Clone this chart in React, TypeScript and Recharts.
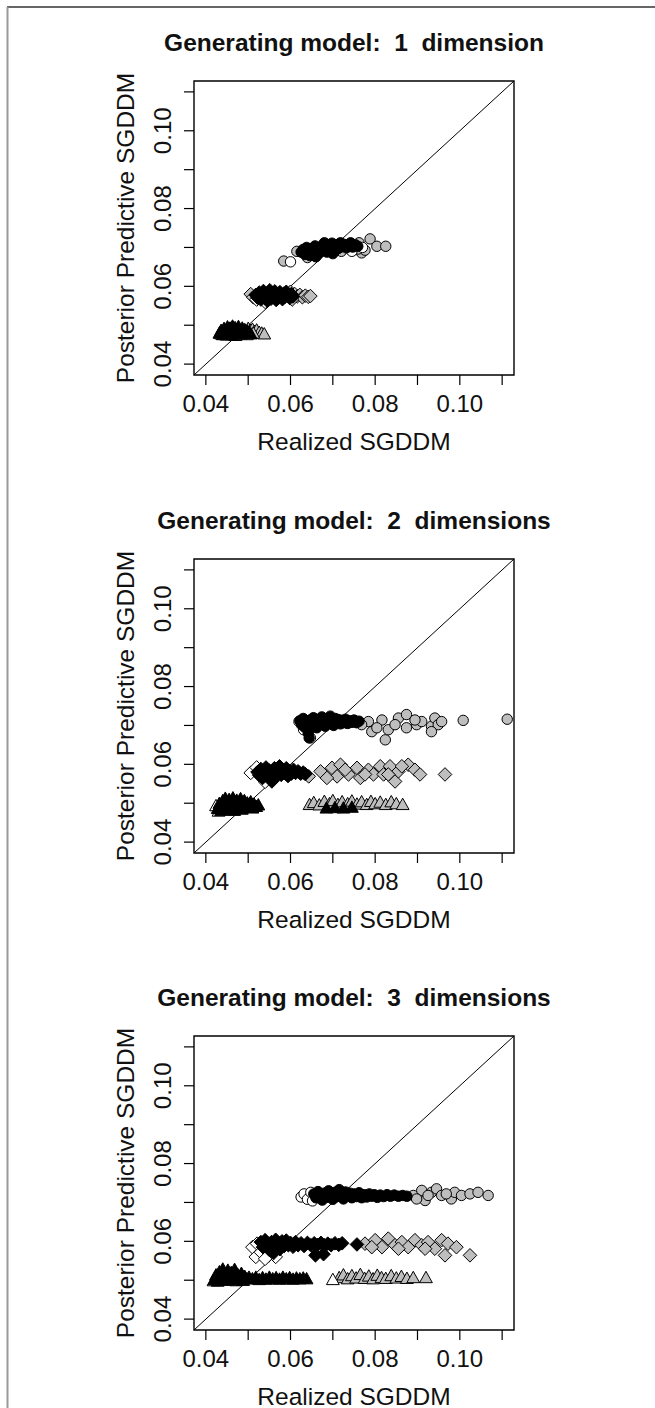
import React from "react";
import {
  ScatterChart,
  Scatter,
  XAxis,
  YAxis,
  ReferenceLine,
  ReferenceArea,
} from "recharts";

type Pt = [number, number];

// axis setup (same for x and y, all three panels)
const AXIS_DOMAIN: [number, number] = [0.0372, 0.1128];
const AXIS_TICKS = [0.04, 0.05, 0.06, 0.07, 0.08, 0.09, 0.1, 0.11];
const LABELLED_TICKS = [0.04, 0.06, 0.08, 0.1];

const TITLES = [
  "Generating model:  1  dimension",
  "Generating model:  2  dimensions",
  "Generating model:  3  dimensions",
];
const X_LABEL = "Realized SGDDM";
const Y_LABEL = "Posterior Predictive SGDDM";

// ---- panel 1 ----
const P1_TRI_BLACK: Pt[] = [
  [0.0432, 0.0478], [0.0436, 0.0485], [0.044, 0.0474], [0.0443, 0.049], [0.0446, 0.048],
  [0.0449, 0.0473], [0.0451, 0.0494], [0.0453, 0.0486], [0.0455, 0.0477], [0.0457, 0.0491],
  [0.0459, 0.0482], [0.0461, 0.0474], [0.0463, 0.0496], [0.0465, 0.0487], [0.0467, 0.0479],
  [0.0469, 0.0492], [0.0471, 0.0483], [0.0473, 0.0475], [0.0475, 0.0489], [0.0477, 0.0495],
  [0.0479, 0.048], [0.0481, 0.0486], [0.0483, 0.0476], [0.0486, 0.0491], [0.0489, 0.0482],
  [0.0492, 0.0487], [0.0495, 0.0478], [0.0498, 0.0484], [0.0502, 0.048], [0.0506, 0.0476],
];
const P1_TRI_GREY: Pt[] = [
  [0.05, 0.049], [0.0505, 0.0485], [0.051, 0.0488], [0.0515, 0.0482], [0.052, 0.0486],
  [0.0526, 0.048], [0.0532, 0.0478], [0.0538, 0.0476], [0.0512, 0.0478],
];
const P1_TRI_OPEN: Pt[] = [[0.0436, 0.0476], [0.047, 0.0472], [0.0497, 0.0474]];

const P1_DIA_BLACK: Pt[] = [
  [0.0518, 0.0578], [0.0522, 0.0571], [0.0526, 0.0584], [0.053, 0.0566], [0.0533, 0.0577],
  [0.0536, 0.0588], [0.0539, 0.057], [0.0542, 0.0581], [0.0545, 0.0563], [0.0548, 0.0575],
  [0.0551, 0.059], [0.0554, 0.0568], [0.0557, 0.0582], [0.056, 0.0574], [0.0563, 0.0587],
  [0.0566, 0.0565], [0.0569, 0.0579], [0.0572, 0.0571], [0.0575, 0.0585], [0.0578, 0.0576],
  [0.0581, 0.0567], [0.0584, 0.0581], [0.0587, 0.0573], [0.059, 0.0586], [0.0594, 0.0577],
  [0.0598, 0.057], [0.0602, 0.058], [0.0606, 0.0574],
];
const P1_DIA_GREY: Pt[] = [
  [0.0506, 0.058], [0.0512, 0.0572], [0.06, 0.0586], [0.061, 0.058], [0.0616, 0.0574],
  [0.0622, 0.0578], [0.0628, 0.0572], [0.0635, 0.0576], [0.0642, 0.0573], [0.0647, 0.0575],
  [0.0604, 0.0566],
];
const P1_DIA_OPEN: Pt[] = [[0.052, 0.0566], [0.054, 0.056]];

const P1_CIR_BLACK: Pt[] = [
  [0.0625, 0.0688], [0.063, 0.0695], [0.0634, 0.0682], [0.0638, 0.07], [0.0642, 0.069],
  [0.0646, 0.0679], [0.065, 0.0697], [0.0654, 0.0687], [0.0658, 0.0704], [0.0662, 0.0693],
  [0.0666, 0.0684], [0.067, 0.0701], [0.0674, 0.0691], [0.0678, 0.0708], [0.0682, 0.0697],
  [0.0686, 0.0688], [0.069, 0.0705], [0.0694, 0.0695], [0.0698, 0.0711], [0.0702, 0.07],
  [0.0706, 0.0692], [0.071, 0.0707], [0.0714, 0.0698], [0.0718, 0.0712], [0.0722, 0.0702],
  [0.0727, 0.0708], [0.0732, 0.0699], [0.0737, 0.0706], [0.0742, 0.0712], [0.0747, 0.0701],
  [0.0753, 0.0707], [0.0759, 0.0703], [0.068, 0.0712], [0.066, 0.0676], [0.07, 0.0684],
];
const P1_CIR_GREY: Pt[] = [
  [0.0584, 0.0665], [0.0615, 0.069], [0.064, 0.0674], [0.072, 0.069], [0.075, 0.0694],
  [0.0762, 0.0712], [0.0768, 0.0686], [0.0776, 0.0693], [0.0788, 0.0722], [0.0804, 0.0703],
  [0.0825, 0.0703], [0.076, 0.0696],
];
const P1_CIR_OPEN: Pt[] = [[0.06, 0.0663], [0.0745, 0.069], [0.077, 0.07]];

// ---- panel 2 ----
const P2_TRI_BLACK: Pt[] = [
  [0.0428, 0.0485], [0.0432, 0.0498], [0.0436, 0.048], [0.044, 0.0505], [0.0443, 0.049],
  [0.0446, 0.0511], [0.0449, 0.0482], [0.0452, 0.0497], [0.0455, 0.0508], [0.0458, 0.0486],
  [0.0461, 0.0502], [0.0464, 0.0512], [0.0467, 0.048], [0.047, 0.0494], [0.0473, 0.0506],
  [0.0476, 0.0487], [0.0479, 0.05], [0.0482, 0.051], [0.0485, 0.0483], [0.0488, 0.0496],
  [0.0491, 0.0505], [0.0494, 0.0488], [0.0498, 0.0499], [0.0502, 0.0492], [0.0506, 0.0502],
  [0.051, 0.0486], [0.0514, 0.0496], [0.0519, 0.049], [0.0524, 0.0494],
  [0.0685, 0.0486], [0.0705, 0.0487], [0.0725, 0.0486], [0.0745, 0.0488],
];
const P2_TRI_GREY: Pt[] = [
  [0.0645, 0.0495], [0.0655, 0.05], [0.0668, 0.0494], [0.068, 0.0503], [0.0692, 0.0497],
  [0.07, 0.0505], [0.0712, 0.0495], [0.0722, 0.0502], [0.0735, 0.0497], [0.0745, 0.0504],
  [0.0757, 0.0496], [0.0768, 0.0502], [0.078, 0.0495], [0.079, 0.0503], [0.08, 0.0497],
  [0.0812, 0.0501], [0.0825, 0.0495], [0.0838, 0.0502], [0.085, 0.0497], [0.0865, 0.0495],
];
const P2_TRI_OPEN: Pt[] = [[0.0424, 0.0492], [0.043, 0.0478]];

const P2_DIA_BLACK: Pt[] = [
  [0.0522, 0.058], [0.0526, 0.0572], [0.053, 0.0588], [0.0534, 0.0565], [0.0538, 0.0578],
  [0.0542, 0.0592], [0.0546, 0.057], [0.055, 0.0584], [0.0554, 0.0562], [0.0558, 0.0576],
  [0.0562, 0.059], [0.0566, 0.0568], [0.057, 0.0582], [0.0574, 0.0595], [0.0578, 0.0573],
  [0.0582, 0.0586], [0.0586, 0.0577], [0.059, 0.059], [0.0594, 0.057], [0.0598, 0.0583],
  [0.0602, 0.0576], [0.0607, 0.0586], [0.0612, 0.0578], [0.0618, 0.0582], [0.0624, 0.0576],
  [0.063, 0.0579], [0.0635, 0.0575], [0.0556, 0.0556],
];
const P2_DIA_GREY: Pt[] = [
  [0.0643, 0.0569], [0.0671, 0.0582], [0.0698, 0.0591], [0.071, 0.0569], [0.0718, 0.0599],
  [0.0737, 0.0574], [0.0757, 0.0591], [0.0765, 0.0565], [0.0784, 0.0586], [0.0796, 0.0574],
  [0.0812, 0.0595], [0.082, 0.0574], [0.0835, 0.0595], [0.0847, 0.0556], [0.0855, 0.0582],
  [0.0878, 0.0599], [0.0894, 0.0586], [0.0906, 0.0574], [0.0965, 0.0574], [0.0686, 0.0565],
  [0.0729, 0.0586], [0.0776, 0.0574], [0.0831, 0.0574], [0.0863, 0.0595],
];
const P2_DIA_OPEN: Pt[] = [[0.0506, 0.0578], [0.052, 0.0592], [0.054, 0.0555]];

const P2_CIR_BLACK: Pt[] = [
  [0.0622, 0.0712], [0.0626, 0.0702], [0.063, 0.0718], [0.0634, 0.0695], [0.0638, 0.0708],
  [0.0642, 0.068], [0.0646, 0.0714], [0.065, 0.07], [0.0654, 0.072], [0.0658, 0.0706],
  [0.0662, 0.0694], [0.0666, 0.0715], [0.067, 0.0703], [0.0674, 0.0722], [0.0678, 0.0709],
  [0.0682, 0.0698], [0.0686, 0.0716], [0.069, 0.0705], [0.0694, 0.0724], [0.0698, 0.0712],
  [0.0702, 0.07], [0.0706, 0.0718], [0.071, 0.0708], [0.0714, 0.0715], [0.0718, 0.0704],
  [0.0722, 0.0713], [0.0726, 0.0707], [0.073, 0.0716], [0.0735, 0.0705], [0.074, 0.0712],
  [0.0745, 0.0708], [0.075, 0.0714], [0.0756, 0.0707], [0.0762, 0.0711], [0.0644, 0.0668],
];
const P2_CIR_GREY: Pt[] = [
  [0.0784, 0.071], [0.0816, 0.0714], [0.0792, 0.0684], [0.0824, 0.0663], [0.0831, 0.0689],
  [0.0855, 0.0719], [0.0874, 0.0728], [0.0874, 0.0694], [0.0898, 0.0702], [0.091, 0.071],
  [0.0933, 0.0698], [0.0941, 0.0719], [0.0949, 0.0702], [0.0957, 0.071], [0.0933, 0.0684],
  [0.1008, 0.0713], [0.1112, 0.0716], [0.0768, 0.0702], [0.0804, 0.0694], [0.0847, 0.0702],
  [0.0894, 0.0714],
];
const P2_CIR_OPEN: Pt[] = [[0.062, 0.071], [0.0631, 0.0689], [0.0647, 0.0668]];

// ---- panel 3 ----
const P3_TRI_BLACK: Pt[] = [
  [0.042, 0.05], [0.0424, 0.0512], [0.0428, 0.0496], [0.0432, 0.052], [0.0436, 0.0505],
  [0.044, 0.0527], [0.0444, 0.0498], [0.0448, 0.0514], [0.0452, 0.0524], [0.0456, 0.0502],
  [0.046, 0.0518], [0.0464, 0.0508], [0.0468, 0.0526], [0.0472, 0.0497], [0.0476, 0.0512],
  [0.048, 0.0503], [0.0484, 0.0516], [0.0488, 0.0498], [0.0492, 0.0508], [0.0497, 0.0502],
  [0.0502, 0.0506], [0.051, 0.0502], [0.0518, 0.0506], [0.0526, 0.05], [0.0534, 0.0505],
  [0.0542, 0.0501], [0.055, 0.0506], [0.0558, 0.0502], [0.0566, 0.0505], [0.0574, 0.0501],
  [0.0582, 0.0506], [0.059, 0.0502], [0.0598, 0.0505], [0.0606, 0.0501], [0.0614, 0.0504],
  [0.0622, 0.0502], [0.063, 0.0504], [0.0638, 0.0502],
];
const P3_TRI_GREY: Pt[] = [
  [0.0715, 0.0505], [0.0725, 0.0512], [0.0735, 0.0502], [0.0745, 0.051], [0.0755, 0.0504],
  [0.0765, 0.0513], [0.0775, 0.0503], [0.0785, 0.0509], [0.0795, 0.0502], [0.0805, 0.0511],
  [0.0815, 0.0505], [0.0825, 0.0503], [0.0838, 0.051], [0.085, 0.0504], [0.0862, 0.0508],
  [0.0875, 0.0503], [0.089, 0.0505], [0.092, 0.0505],
];
const P3_TRI_OPEN: Pt[] = [[0.0418, 0.0497], [0.07, 0.05]];

const P3_DIA_BLACK: Pt[] = [
  [0.053, 0.0598], [0.0535, 0.0585], [0.054, 0.0603], [0.0545, 0.059], [0.055, 0.0578],
  [0.0555, 0.0598], [0.056, 0.0586], [0.0565, 0.0604], [0.057, 0.0592], [0.0575, 0.058],
  [0.058, 0.06], [0.0585, 0.0588], [0.059, 0.0602], [0.0595, 0.059], [0.06, 0.0596],
  [0.0606, 0.0586], [0.0612, 0.0598], [0.0618, 0.059], [0.0625, 0.0595], [0.0632, 0.0588],
  [0.064, 0.0596], [0.0648, 0.059], [0.0656, 0.0595], [0.0664, 0.0591], [0.0672, 0.0596],
  [0.068, 0.059], [0.0688, 0.0594], [0.0696, 0.059], [0.0705, 0.0595], [0.0714, 0.0591],
  [0.0722, 0.0595], [0.0659, 0.0564], [0.0678, 0.0567], [0.0757, 0.0592], [0.056, 0.057],
];
const P3_DIA_GREY: Pt[] = [
  [0.0776, 0.0594], [0.08, 0.0603], [0.0816, 0.0585], [0.0831, 0.0607], [0.0847, 0.059],
  [0.0863, 0.0598], [0.0878, 0.0585], [0.0894, 0.0603], [0.091, 0.059], [0.0925, 0.0598],
  [0.0941, 0.0581], [0.0957, 0.0603], [0.0965, 0.0564], [0.0972, 0.0594], [0.0992, 0.0585],
  [0.1024, 0.0564], [0.0792, 0.0585], [0.0855, 0.0581], [0.0918, 0.0581],
];
const P3_DIA_OPEN: Pt[] = [
  [0.051, 0.0585], [0.0518, 0.056], [0.0521, 0.0594], [0.053, 0.0572], [0.0549, 0.0564],
  [0.0565, 0.056], [0.054, 0.0555],
];

const P3_CIR_BLACK: Pt[] = [
  [0.0655, 0.0722], [0.066, 0.0712], [0.0665, 0.0728], [0.067, 0.0716], [0.0675, 0.0706],
  [0.068, 0.0724], [0.0685, 0.0713], [0.069, 0.073], [0.0695, 0.0718], [0.07, 0.0708],
  [0.0705, 0.0726], [0.071, 0.0715], [0.0715, 0.0733], [0.072, 0.072], [0.0725, 0.0709],
  [0.073, 0.0727], [0.0735, 0.0716], [0.074, 0.0724], [0.0745, 0.0712], [0.075, 0.0722],
  [0.0756, 0.0715], [0.0762, 0.0725], [0.0768, 0.0712], [0.0774, 0.072], [0.078, 0.0714],
  [0.0786, 0.0722], [0.0792, 0.0716], [0.0798, 0.072], [0.0805, 0.0713], [0.0812, 0.0719],
  [0.082, 0.0715], [0.0828, 0.072], [0.0836, 0.0716], [0.0845, 0.0719], [0.0855, 0.0716],
  [0.0865, 0.0718], [0.0875, 0.0716],
];
const P3_CIR_GREY: Pt[] = [
  [0.089, 0.0718], [0.091, 0.0731], [0.0918, 0.0705], [0.0933, 0.0726], [0.0945, 0.0735],
  [0.0957, 0.0718], [0.098, 0.0709], [0.0988, 0.0726], [0.1004, 0.0718], [0.1024, 0.0722],
  [0.1043, 0.0726], [0.1067, 0.0718], [0.0898, 0.0709], [0.0968, 0.0722], [0.0925, 0.0718],
];
const P3_CIR_OPEN: Pt[] = [
  [0.0625, 0.0714], [0.0632, 0.0722], [0.064, 0.0708], [0.0648, 0.0726], [0.0652, 0.0704],
];

const GREY = "#bebebe";
const WHITE = "#ffffff";
const BLACK = "#000000";

type Kind = "circle" | "diamond" | "triangle";
type SeriesDef = { kind: Kind; fill: string; pts: Pt[] };

// draw order: grey, open, black (black ends up on top)
const PANEL_SERIES: SeriesDef[][] = [
  [
    { kind: "triangle", fill: GREY, pts: P1_TRI_GREY },
    { kind: "triangle", fill: WHITE, pts: P1_TRI_OPEN },
    { kind: "triangle", fill: BLACK, pts: P1_TRI_BLACK },
    { kind: "diamond", fill: GREY, pts: P1_DIA_GREY },
    { kind: "diamond", fill: WHITE, pts: P1_DIA_OPEN },
    { kind: "diamond", fill: BLACK, pts: P1_DIA_BLACK },
    { kind: "circle", fill: GREY, pts: P1_CIR_GREY },
    { kind: "circle", fill: WHITE, pts: P1_CIR_OPEN },
    { kind: "circle", fill: BLACK, pts: P1_CIR_BLACK },
  ],
  [
    { kind: "triangle", fill: GREY, pts: P2_TRI_GREY },
    { kind: "triangle", fill: WHITE, pts: P2_TRI_OPEN },
    { kind: "triangle", fill: BLACK, pts: P2_TRI_BLACK },
    { kind: "diamond", fill: GREY, pts: P2_DIA_GREY },
    { kind: "diamond", fill: WHITE, pts: P2_DIA_OPEN },
    { kind: "diamond", fill: BLACK, pts: P2_DIA_BLACK },
    { kind: "circle", fill: GREY, pts: P2_CIR_GREY },
    { kind: "circle", fill: WHITE, pts: P2_CIR_OPEN },
    { kind: "circle", fill: BLACK, pts: P2_CIR_BLACK },
  ],
  [
    { kind: "triangle", fill: GREY, pts: P3_TRI_GREY },
    { kind: "triangle", fill: WHITE, pts: P3_TRI_OPEN },
    { kind: "triangle", fill: BLACK, pts: P3_TRI_BLACK },
    { kind: "diamond", fill: GREY, pts: P3_DIA_GREY },
    { kind: "diamond", fill: WHITE, pts: P3_DIA_OPEN },
    { kind: "diamond", fill: BLACK, pts: P3_DIA_BLACK },
    { kind: "circle", fill: GREY, pts: P3_CIR_GREY },
    { kind: "circle", fill: WHITE, pts: P3_CIR_OPEN },
    { kind: "circle", fill: BLACK, pts: P3_CIR_BLACK },
  ],
];

const PANEL_TOPS = [0, 478, 955];
const FONT = "'Liberation Sans', Arial, sans-serif";

const toData = (pts: Pt[]) => pts.map(([x, y]) => ({ x, y }));

function Marker({ cx, cy, kind, fill }: { cx: number; cy: number; kind: Kind; fill: string }) {
  if (cx == null || cy == null) return null;
  if (kind === "circle") {
    return <circle cx={cx} cy={cy} r={5.2} fill={fill} stroke="#000" strokeWidth={1} />;
  }
  if (kind === "diamond") {
    const d = 6.8;
    return (
      <path
        d={`M${cx},${cy - d}L${cx + d},${cy}L${cx},${cy + d}L${cx - d},${cy}Z`}
        fill={fill}
        stroke="#000"
        strokeWidth={1}
      />
    );
  }
  return (
    <path
      d={`M${cx},${cy - 7}L${cx + 6.4},${cy + 4.4}L${cx - 6.4},${cy + 4.4}Z`}
      fill={fill}
      stroke="#000"
      strokeWidth={1}
    />
  );
}

const XTick = (props: any) => {
  const { x, y, payload } = props;
  const v = payload.value;
  if (!LABELLED_TICKS.some((t) => Math.abs(t - v) < 1e-9)) return null;
  return (
    <text x={x} y={y + 26.5} textAnchor="middle" fontSize={24} fontFamily={FONT} fill="#111">
      {v.toFixed(2)}
    </text>
  );
};

const YTick = (props: any) => {
  const { x, y, payload } = props;
  const v = payload.value;
  if (!LABELLED_TICKS.some((t) => Math.abs(t - v) < 1e-9)) return null;
  const bx = x - 12.5;
  return (
    <text
      x={bx}
      y={y}
      transform={`rotate(-90, ${bx}, ${y})`}
      textAnchor="middle"
      fontSize={24}
      fontFamily={FONT}
      fill="#111"
    >
      {v.toFixed(2)}
    </text>
  );
};

function Panel({ series }: { series: SeriesDef[] }) {
  return (
    <ScatterChart width={655} height={440} margin={{ top: 81, right: 141, bottom: 5, left: 134 }}>
      <XAxis
        type="number"
        dataKey="x"
        domain={AXIS_DOMAIN}
        ticks={AXIS_TICKS}
        allowDataOverflow
        axisLine={false}
        tickLine={{ stroke: "#000", strokeWidth: 1.2 }}
        tickSize={10}
        tickMargin={0}
        height={60}
        tick={<XTick />}
        interval={0}
      />
      <YAxis
        type="number"
        dataKey="y"
        domain={AXIS_DOMAIN}
        ticks={AXIS_TICKS}
        allowDataOverflow
        axisLine={false}
        tickLine={{ stroke: "#000", strokeWidth: 1.2 }}
        tickSize={10}
        tickMargin={0}
        width={60}
        tick={<YTick />}
        interval={0}
      />
      <ReferenceLine
        segment={[
          { x: AXIS_DOMAIN[0], y: AXIS_DOMAIN[0] },
          { x: AXIS_DOMAIN[1], y: AXIS_DOMAIN[1] },
        ]}
        stroke="#000"
        strokeWidth={1}
        ifOverflow="visible"
      />
      {series.map((s, i) => (
        <Scatter
          key={i}
          data={toData(s.pts)}
          isAnimationActive={false}
          shape={(p: any) => <Marker cx={p.cx} cy={p.cy} kind={s.kind} fill={s.fill} />}
        />
      ))}
      <ReferenceArea
        x1={AXIS_DOMAIN[0]}
        x2={AXIS_DOMAIN[1]}
        y1={AXIS_DOMAIN[0]}
        y2={AXIS_DOMAIN[1]}
        fill="none"
        fillOpacity={0}
        stroke="#000"
        strokeWidth={1.4}
        ifOverflow="visible"
      />
    </ScatterChart>
  );
}

export default function App() {
  return (
    <div
      style={{
        position: "absolute",
        top: 0,
        left: 0,
        width: 655,
        height: 1408,
        background: "#fff",
        overflow: "hidden",
      }}
    >
      {PANEL_SERIES.map((series, i) => (
        <div key={i} style={{ position: "absolute", top: PANEL_TOPS[i], left: 0 }}>
          <Panel series={series} />
        </div>
      ))}
      <svg
        width={655}
        height={1408}
        style={{ position: "absolute", top: 0, left: 0, pointerEvents: "none" }}
      >
        <line x1={7} y1={7} x2={655} y2={7} stroke="#333" strokeWidth={1.5} />
        <line x1={7.5} y1={7} x2={7.5} y2={1408} stroke="#999" strokeWidth={2} />
        {TITLES.map((t, i) => (
          <g key={i} transform={`translate(0, ${PANEL_TOPS[i]})`} fontFamily={FONT} fill="#111">
            <text
              x={354}
              y={50.5}
              textAnchor="middle"
              fontSize={24.5}
              fontWeight="bold"
              style={{ whiteSpace: "pre" }}
            >
              {t}
            </text>
            <text x={354} y={450} textAnchor="middle" fontSize={24.5}>
              {X_LABEL}
            </text>
            <text transform="translate(134, 228) rotate(-90)" textAnchor="middle" fontSize={24.5}>
              {Y_LABEL}
            </text>
          </g>
        ))}
      </svg>
    </div>
  );
}
